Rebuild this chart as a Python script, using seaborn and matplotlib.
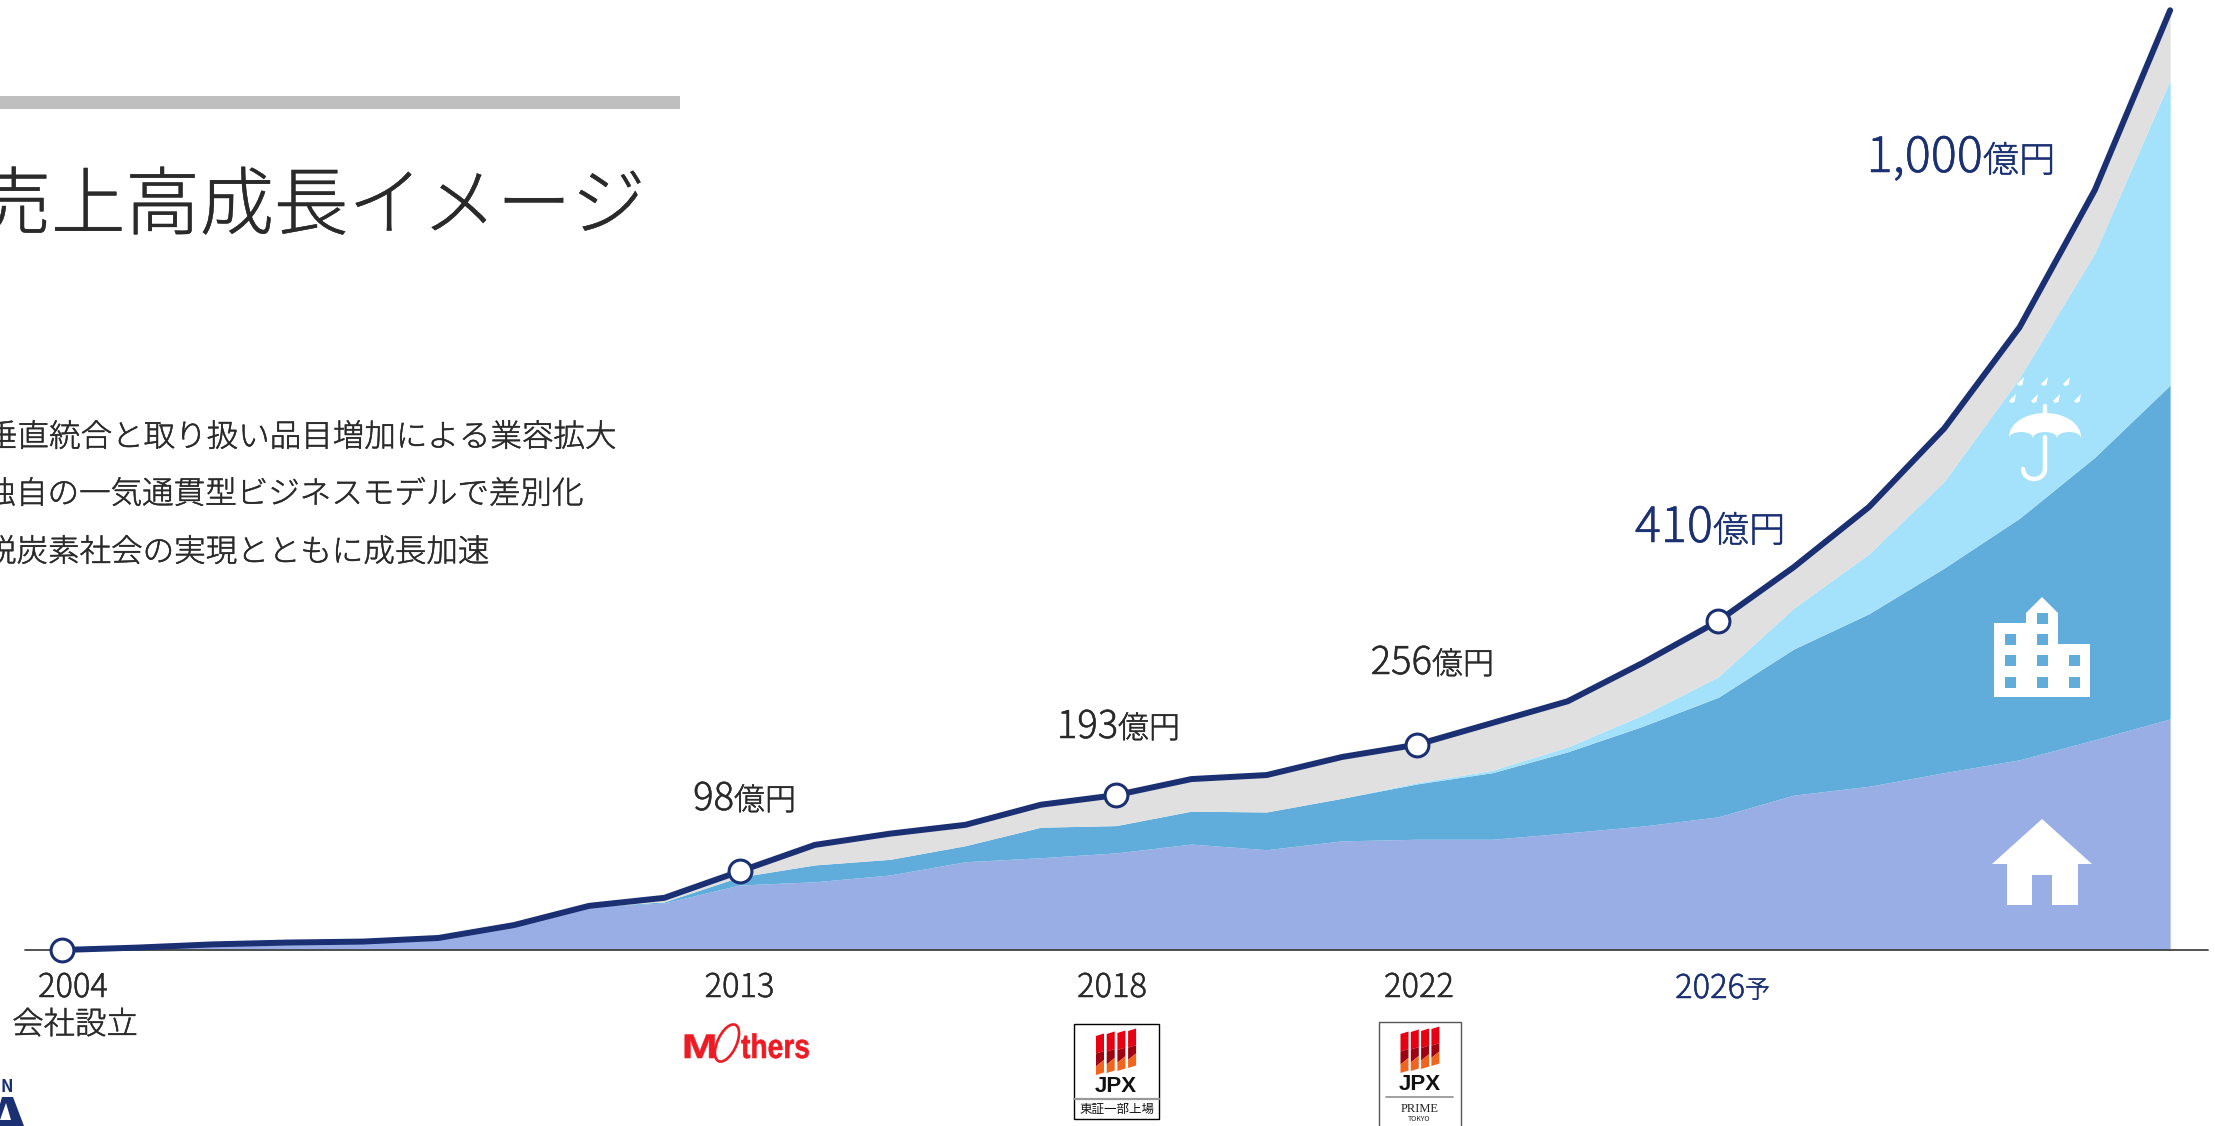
import numpy as np
import pandas as pd
import seaborn as sns
import matplotlib
matplotlib.use("Agg")
import matplotlib.pyplot as plt
import matplotlib.patheffects as pe
from matplotlib.patches import Polygon, Rectangle, Ellipse, PathPatch
from matplotlib.lines import Line2D
from matplotlib.textpath import TextPath
from matplotlib.font_manager import FontProperties
from matplotlib.transforms import Affine2D

# ---------- data (億円) ----------
years = list(range(2004, 2033))
total = [0, 3, 7, 9.3, 10.5, 15, 31, 55, 65, 98, 131, 145, 156, 181, 193, 213, 218, 240.5, 256,
         283, 310, 358, 410, 477, 552, 650, 776, 947, 1171]
residential = [0, 2.5, 6, 8.5, 9.5, 14, 30, 54, 58.6, 81, 85, 93.5, 110, 115, 121, 132, 125, 136, 138,
               138, 146, 154.5, 166, 193, 204, 221, 237, 262, 288]
commercial = [0, 0, 0, 0, 0, 0, 0, 0, 1.4, 10, 21, 19.5, 20, 38, 34, 41, 47, 53, 69,
              83, 101, 124.5, 149, 182, 215, 255, 301, 352, 416]
disaster = [0, 0, 0, 0, 0, 0, 0, 0, 0, 0, 0, 0, 0, 0, 0, 0, 0, 0, 1.5,
            3, 6, 14, 25.5, 51, 74.5, 108, 175, 254.5, 380]
marked_years = [2004, 2013, 2018, 2022, 2026]
title_text = "売上高成長イメージ"
bullets = ["垂直統合と取り扱い品目増加による業容拡大",
           "独自の一気通貫型ビジネスモデルで差別化",
           "脱炭素社会の実現とともに成長加速"]

W, H = 2215, 1126
NAVY, DARK = "#1A3072", "#2A2A2A"
PURPLE, BLUE, SKY, GREY = "#9AAEE6", "#60ACDB", "#A4E1FA", "#E0E0E0"
RED = "#ED1C24"

sns.set_theme(style="white")
FONT = ["Noto Sans CJK JP", "DejaVu Sans"]
plt.rcParams["font.family"] = FONT

df = pd.DataFrame({"year": years, "total": total, "res": residential, "com": commercial, "dis": disaster})
df["other"] = df["total"] - df["res"] - df["com"] - df["dis"]

fig = plt.figure(figsize=(W / 100, H / 100), dpi=100, facecolor="white")
ax = fig.add_axes([0, 0, 1, 1])
X0, XS, Y0, YS = 62.0, 75.29, 950.0, 0.8025
ax.set_xlim(2004 - X0 / XS, 2004 + (W - X0) / XS)
ax.set_ylim(-(H - Y0) / YS, Y0 / YS)
ax.axis("off")
px = Affine2D().scale(1, -1).translate(0, H)  # reference pixels -> display

ax.stackplot(df["year"], df["res"], df["com"], df["dis"], df["other"],
             colors=[PURPLE, BLUE, SKY, GREY], linewidth=0, zorder=2)
ax.add_line(Line2D([25, 2208], [950, 950], transform=px, color="#444444", lw=1.3, zorder=3))
sns.lineplot(data=df, x="year", y="total", color=NAVY, lw=4.3, ax=ax, zorder=4,
             solid_capstyle="round", solid_joinstyle="round", legend=False, errorbar=None)
sns.scatterplot(data=df[df["year"].isin(marked_years)], x="year", y="total", s=270, color="white",
                edgecolor=NAVY, linewidth=2.2, ax=ax, zorder=5, legend=False, clip_on=False)
ax.set_xlabel("")
ax.set_ylabel("")


def T(x, y, s, size, color=DARK, ha="left", va="baseline", stroke=0.35, **kw):
    kw.setdefault("fontweight", "light")
    t = ax.text(x, y, s, transform=px, fontsize=size, color=color, ha=ha, va=va, zorder=10, **kw)
    if stroke:
        t.set_path_effects([pe.withStroke(linewidth=stroke, foreground=color)])
    return t


def P(pts, color="white", z=7, **kw):
    ax.add_patch(Polygon(pts, closed=True, transform=px, facecolor=color, edgecolor="none", zorder=z,
                         clip_on=False, **kw))


def R(x, y, w, h, color="white", z=7, **kw):
    kw.setdefault("edgecolor", "none")
    ax.add_patch(Rectangle((x, y), w, h, transform=px, facecolor=color, zorder=z, clip_on=False, **kw))


# header, title, bullets
R(0, 96, 680, 13, "#BFBFBF")
T(645, 199, title_text, 53.5, ha="right", va="center_baseline")
for s, xr, yc in zip(bullets, [616, 583, 489], [434, 491, 549]):
    T(xr, yc, s, 22.7, ha="right", va="center_baseline")

# value labels: number + unit
for num, split, base, ns, us, col in [("98", 734, 810, 27.5, 22.3, DARK), ("193", 1118, 738, 27.5, 22.3, DARK),
                                      ("256", 1432, 674, 27.5, 22.3, DARK), ("410", 1713, 542, 35, 26, NAVY),
                                      ("1,000", 1983, 172, 35, 26, NAVY)]:
    T(split, base, num, ns, col, ha="right")
    T(split, base, "億円", us, col)

# year labels
for s, xc in [("2004", 73), ("2013", 739.5), ("2018", 1112), ("2022", 1419)]:
    T(xc, 997, s, 23.5, ha="center")
T(75, 1034, "会社設立", 22.6, ha="center")
T(1745, 998, "2026", 23.5, NAVY, ha="right")
T(1745, 998, "予", 18, NAVY)

# house icon
P([(2042, 819), (2092, 864), (2078, 864), (2078, 905), (2052, 905), (2052, 875), (2032, 875), (2032, 905),
   (2007, 905), (2007, 864), (1992, 864)])
# building icon
P([(1994, 697), (1994, 623), (2026, 623), (2026, 613), (2042, 597), (2058, 613), (2058, 644), (2090, 644), (2090, 697)])
for wx, wy in [(2037, 613), (2005, 634), (2037, 634), (2005, 655), (2037, 655), (2069, 655),
               (2005, 677), (2037, 677), (2069, 677)]:
    R(wx, wy, 11, 11, BLUE, z=7.5)
# umbrella icon
th = np.linspace(np.pi, 0, 40)
top = list(zip(2045 + 36 * np.cos(th), 437 - 24 * np.sin(th)))
sc = []
for a, b in [(2081, 2057), (2057, 2033), (2033, 2009)]:
    c, r = (a + b) / 2, abs(a - b) / 2
    for t in np.linspace(0, np.pi, 12):
        sc.append((c + r * np.cos(t), 438 - 6 * np.sin(t)))
P(top + sc)
ax.add_line(Line2D([2045, 2045], [406, 414], transform=px, color="white", lw=3.2, zorder=7))
hook = np.linspace(0, np.pi, 20)
ax.add_line(Line2D(list(2034 + 11 * np.cos(hook)), list(469 + 10 * np.sin(hook)), transform=px, color="white", lw=3.2, zorder=7))
ax.add_line(Line2D([2045, 2045], [437, 469], transform=px, color="white", lw=3.2, zorder=7))
for dx, dy in [(2020, 382), (2044, 382), (2066, 382), (2012, 399), (2034, 399), (2056, 399), (2077, 399)]:
    P([(dx + 4, dy - 5), (dx + 2.5, dy + 3), (dx - 1, dy + 4), (dx - 3, dy + 2)])

# Mothers logo: glyph outlines squeezed to the logo's proportions
fp = FontProperties(family="Liberation Sans", weight="bold")


def logo_text(s, x, base, sx, size=34):
    tp = TextPath((0, 0), s, size=size, prop=fp)
    tr = Affine2D().scale(sx, -1).translate(x, base) + px
    ax.add_patch(PathPatch(tp, transform=tr, facecolor=RED, edgecolor=RED, lw=0.4, zorder=8, clip_on=False))


logo_text("M", 682, 1058, 1.25)
ax.add_patch(Ellipse((727, 1043), 19, 40, angle=25, transform=px, facecolor="none", edgecolor=RED, lw=1.9, zorder=8, clip_on=False))
logo_text("thers", 741, 1058, 0.83)


# JPX mark
def jpx(x0, pitch, w, ytops, ybots):
    for i, (yt, yb) in enumerate(zip(ytops, ybots)):
        x = x0 + i * pitch
        s1, s2 = yt + (yb - yt) * 0.45, yt + (yb - yt) * 0.78
        sl = 2.5
        P([(x, yt), (x + w, yt - sl), (x + w, s1 - sl), (x, s1)], "#E60012", z=9)
        P([(x, s1), (x + w, s1 - sl), (x + w, s2 - sl - 4), (x, s2)], "#A0000F", z=9)
        P([(x, s2), (x + w, s2 - sl - 4), (x + w, yb - sl), (x, yb)], "#F0651E", z=9)


R(1074, 1024, 85, 95, "white", z=8, edgecolor="black", linewidth=1)
jpx(1096, 10.7, 8, [1036, 1034, 1033, 1031], [1075, 1073, 1071, 1068])
T(1116, 1086, "JPX", 16, "#111111", ha="center", va="center", stroke=0, fontweight="bold", family=["Liberation Sans"])
ax.add_line(Line2D([1074, 1159], [1099, 1099], transform=px, color="#999999", lw=1.6, zorder=9))
T(1116.5, 1109, "東証一部上場", 9, "#111111", ha="center", va="center", stroke=0, fontweight="normal")

R(1378.5, 1022, 82.5, 130, "white", z=8, edgecolor="#555555", linewidth=1)
jpx(1400.5, 10.3, 8, [1034, 1032, 1031, 1029], [1073, 1071, 1069, 1066])
T(1419.5, 1084, "JPX", 16, "#111111", ha="center", va="center", stroke=0, fontweight="bold", family=["Liberation Sans"])
ax.add_line(Line2D([1386, 1453], [1097, 1097], transform=px, color="#999999", lw=1.3, zorder=9))
T(1419.5, 1109, "PRIME", 9, "#222222", ha="center", va="center", stroke=0, fontweight="normal", family=["Liberation Serif"])
T(1419.5, 1119, "TOKYO", 5, "#222222", ha="center", va="center", stroke=0, fontweight="normal")

# company logo, cut off at the corner
T(1, 1092, "N", 12, NAVY, stroke=0, fontweight="bold")
P([(-6, 1126), (2, 1097), (13, 1097), (24, 1126)], NAVY)
P([(0, 1120), (6, 1103), (11, 1120)], "white", z=7.5)

fig.savefig("out.png", dpi=100, facecolor="white")
